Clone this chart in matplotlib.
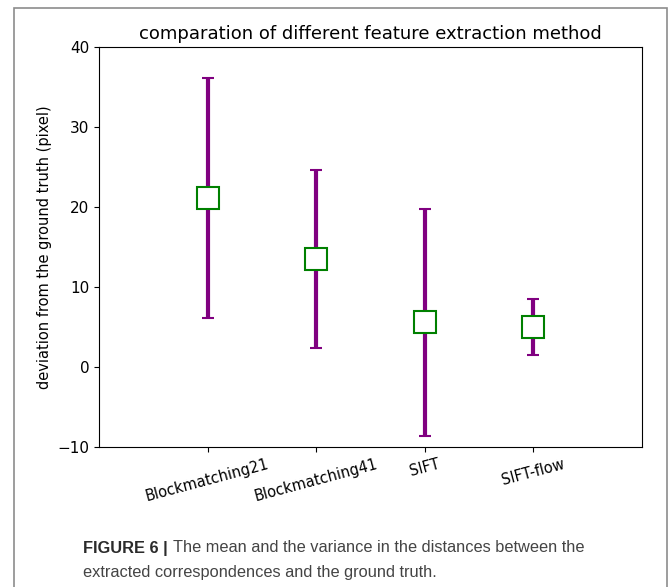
import matplotlib
matplotlib.use("Agg")
import matplotlib.pyplot as plt
from matplotlib.patches import Rectangle

methods = ["Blockmatching21", "Blockmatching41", "SIFT", "SIFT-flow"]
means = [21.1, 13.5, 5.6, 5.0]
errors = [15.0, 11.1, 14.2, 3.5]
y_ticks = [-10, 0, 10, 20, 30, 40]

fig = plt.figure(figsize=(6.70, 5.87), dpi=100)
W, H = 670, 587

# outer frame (open at the bottom)
frame = Rectangle((14 / W, -0.05), (667 - 14) / W, 1 - 8 / H + 0.05,
                  transform=fig.transFigure, fill=False,
                  edgecolor="#8c8c8c", linewidth=1.2, clip_on=False)
fig.patches.append(frame)

ax = fig.add_axes([99 / W, 1 - 447 / H, (642 - 99) / W, (447 - 47) / H])
x = list(range(len(methods)))
ax.errorbar(x, means, yerr=errors, fmt="s", color="purple", ecolor="purple",
            elinewidth=3, capsize=4.5, capthick=2.2,
            markerfacecolor="white", markeredgecolor="green",
            markersize=16.5, markeredgewidth=1.5, zorder=3)
ax.set_xlim(-1, 4)
ax.set_ylim(-10, 40)
ax.set_yticks(y_ticks)
ax.set_xticks(x)
ax.set_xticklabels(methods, rotation=15, ha="center", fontsize=10.5)
ax.tick_params(axis="y", labelsize=11)
ax.set_ylabel("deviation from the ground truth (pixel)", fontsize=10.5)
ax.set_title("comparation of different feature extraction method", fontsize=13)

cap_fam = ["Liberation Sans", "DejaVu Sans"]
fig.canvas.draw()
r = fig.canvas.get_renderer()
t1 = fig.text(83 / W, 1 - 548 / H, "FIGURE 6 |", fontsize=11.8, fontweight="bold",
              color="#2b2b2b", family=cap_fam, va="center")
bb = t1.get_window_extent(renderer=r)
fig.text((bb.x1 + 5) / W, 1 - 548 / H,
         "The mean and the variance in the distances between the",
         fontsize=11.8, color="#444444", family=cap_fam, va="center")
fig.text(83 / W, 1 - 572 / H,
         "extracted correspondences and the ground truth.",
         fontsize=11.8, color="#444444", family=cap_fam, va="center")

fig.savefig("out.png", dpi=100)
